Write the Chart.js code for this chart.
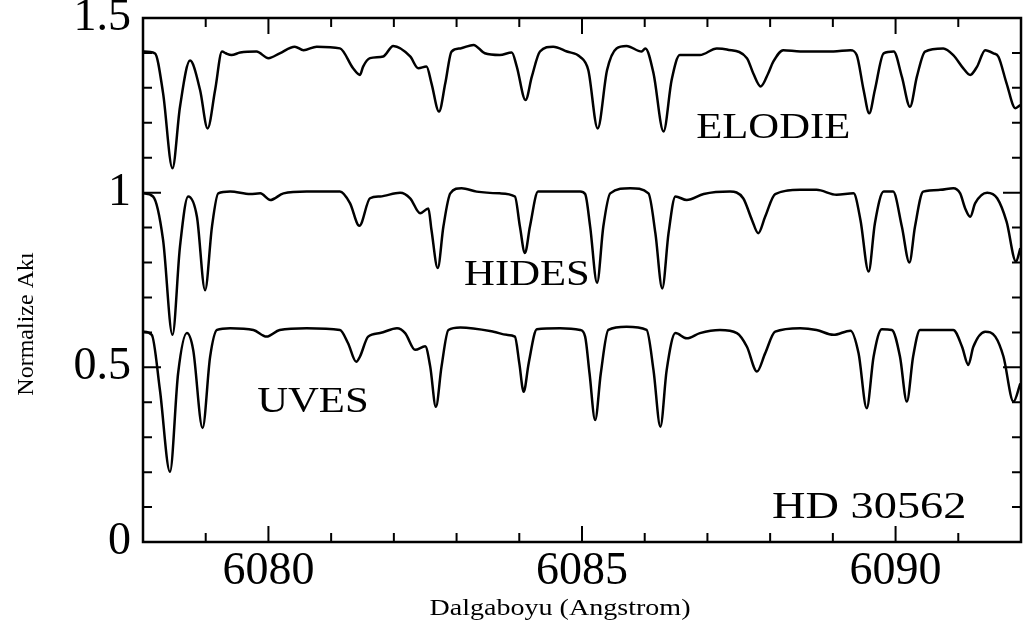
<!DOCTYPE html>
<html>
<head>
<meta charset="utf-8">
<script src="https://cdn.jsdelivr.net/npm/chart.js@4.4.0/dist/chart.umd.min.js"></script>
<style>
  html, body { margin: 0; padding: 0; background: #fff; }
</style>
</head>
<body>
<canvas id="spectra" width="1031" height="638"></canvas>
<script>
// Spectra of HD 30562 (wavelength in Angstrom, normalised flux)
const seriesNames = ['ELODIE', 'HIDES', 'UVES'];
const starName = 'HD 30562';
const xTicks = [6080, 6085, 6090];
const yTicks = [0, 0.5, 1, 1.5];

const elodieWave = [
  6078.00, 6078.19, 6078.32, 6078.47, 6078.59, 6078.75, 6078.91, 6079.03, 6079.15, 6079.26,
  6079.32, 6079.41, 6079.55, 6079.81, 6080.00, 6080.18, 6080.42, 6080.56, 6080.77, 6081.14,
  6081.35, 6081.46, 6081.51, 6081.62, 6081.83, 6081.99, 6082.26, 6082.39, 6082.52, 6082.60,
  6082.72, 6082.82, 6082.92, 6083.06, 6083.27, 6083.45, 6083.69, 6083.88, 6083.96, 6084.10,
  6084.20, 6084.33, 6084.54, 6084.76, 6084.97, 6085.10, 6085.25, 6085.40, 6085.55, 6085.71,
  6085.95, 6086.01, 6086.14, 6086.30, 6086.43, 6086.56, 6086.88, 6087.15, 6087.31, 6087.63,
  6087.73, 6087.85, 6087.97, 6088.05, 6088.21, 6088.48, 6089.01, 6089.28, 6089.38, 6089.49,
  6089.58, 6089.67, 6089.81, 6089.97, 6090.10, 6090.23, 6090.34, 6090.47, 6090.76, 6090.92,
  6091.08, 6091.19, 6091.30, 6091.43, 6091.56, 6091.64, 6091.77, 6091.91, 6091.99
];
const elodieFlux = [
  1.404, 1.399, 1.285, 1.070, 1.246, 1.378, 1.294, 1.184, 1.294, 1.404,
  1.399, 1.394, 1.401, 1.404, 1.385, 1.399, 1.418, 1.408, 1.418, 1.413,
  1.356, 1.337, 1.361, 1.385, 1.390, 1.420, 1.390, 1.356, 1.361, 1.313,
  1.232, 1.313, 1.404, 1.413, 1.423, 1.399, 1.394, 1.401, 1.361, 1.265,
  1.332, 1.404, 1.418, 1.404, 1.389, 1.351, 1.184, 1.351, 1.413, 1.420,
  1.404, 1.413, 1.342, 1.175, 1.323, 1.394, 1.394, 1.413, 1.410, 1.385,
  1.342, 1.304, 1.342, 1.375, 1.408, 1.404, 1.404, 1.408, 1.394, 1.294,
  1.227, 1.294, 1.399, 1.404, 1.332, 1.246, 1.332, 1.404, 1.413, 1.394,
  1.356, 1.337, 1.361, 1.408, 1.399, 1.389, 1.313, 1.242, 1.251
];

const hidesWave = [
  6078.00, 6078.16, 6078.32, 6078.47, 6078.59, 6078.72, 6078.86, 6078.99, 6079.10, 6079.20,
  6079.39, 6079.71, 6079.87, 6080.03, 6080.24, 6080.61, 6081.14, 6081.30, 6081.45, 6081.62,
  6081.78, 6082.10, 6082.26, 6082.42, 6082.55, 6082.60, 6082.70, 6082.79, 6082.90, 6083.08,
  6083.32, 6083.69, 6083.93, 6084.01, 6084.09, 6084.17, 6084.30, 6084.65, 6084.97, 6085.05,
  6085.13, 6085.24, 6085.34, 6085.45, 6085.77, 6086.06, 6086.17, 6086.28, 6086.38, 6086.49,
  6086.67, 6086.94, 6087.36, 6087.57, 6087.71, 6087.81, 6087.92, 6088.08, 6088.48, 6088.74,
  6089.06, 6089.33, 6089.44, 6089.57, 6089.67, 6089.81, 6089.96, 6090.10, 6090.22, 6090.31,
  6090.44, 6090.71, 6090.92, 6091.03, 6091.11, 6091.19, 6091.27, 6091.46, 6091.62, 6091.77,
  6091.92, 6091.99
];
const hidesFlux = [
  0.998, 0.989, 0.865, 0.593, 0.846, 0.989, 0.931, 0.721, 0.903, 0.998,
  1.003, 0.996, 0.998, 0.979, 0.998, 1.003, 1.003, 0.970, 0.905, 0.984,
  0.989, 1.000, 0.984, 0.941, 0.955, 0.893, 0.784, 0.903, 0.998, 1.013,
  1.003, 0.998, 0.989, 0.903, 0.827, 0.903, 1.003, 1.003, 1.003, 0.996,
  0.903, 0.742, 0.903, 0.998, 1.013, 0.998, 0.884, 0.726, 0.884, 0.989,
  0.979, 0.996, 1.003, 0.984, 0.922, 0.884, 0.931, 0.996, 1.008, 1.008,
  0.994, 0.998, 0.922, 0.774, 0.912, 1.003, 1.003, 0.903, 0.800, 0.903,
  1.003, 1.008, 1.013, 0.998, 0.955, 0.931, 0.970, 1.000, 0.984, 0.917,
  0.803, 0.841
];

const uvesWave = [
  6078.00, 6078.14, 6078.27, 6078.43, 6078.56, 6078.70, 6078.80, 6078.95, 6079.07, 6079.18,
  6079.39, 6079.76, 6079.97, 6080.18, 6080.61, 6081.14, 6081.27, 6081.40, 6081.46, 6081.59,
  6081.78, 6082.05, 6082.18, 6082.34, 6082.50, 6082.58, 6082.67, 6082.76, 6082.87, 6083.06,
  6083.59, 6083.80, 6083.93, 6084.00, 6084.07, 6084.15, 6084.28, 6084.65, 6084.97, 6085.05,
  6085.12, 6085.21, 6085.30, 6085.42, 6085.71, 6086.03, 6086.14, 6086.25, 6086.35, 6086.49,
  6086.67, 6086.88, 6087.20, 6087.47, 6087.63, 6087.79, 6087.92, 6088.08, 6088.48, 6088.74,
  6089.01, 6089.28, 6089.41, 6089.54, 6089.65, 6089.78, 6089.94, 6090.07, 6090.18, 6090.28,
  6090.39, 6090.92, 6091.06, 6091.16, 6091.24, 6091.43, 6091.59, 6091.72, 6091.88, 6091.99
];
const uvesFlux = [
  0.602, 0.593, 0.435, 0.201, 0.483, 0.598, 0.550, 0.326, 0.530, 0.607,
  0.612, 0.607, 0.588, 0.607, 0.612, 0.607, 0.569, 0.516, 0.531, 0.588,
  0.598, 0.612, 0.598, 0.550, 0.560, 0.502, 0.387, 0.502, 0.607, 0.614,
  0.602, 0.593, 0.588, 0.512, 0.430, 0.512, 0.609, 0.612, 0.607, 0.588,
  0.483, 0.349, 0.483, 0.607, 0.616, 0.607, 0.492, 0.330, 0.492, 0.598,
  0.583, 0.598, 0.607, 0.598, 0.559, 0.488, 0.540, 0.602, 0.612, 0.607,
  0.593, 0.605, 0.540, 0.383, 0.531, 0.609, 0.607, 0.531, 0.402, 0.531,
  0.607, 0.607, 0.559, 0.507, 0.559, 0.602, 0.588, 0.531, 0.402, 0.454
];

const SERIF = '"Liberation Serif", "Times New Roman", serif';

/**
 * Pair wavelength and flux arrays into chart points
 */
function toPoints(wave, flux) {
  return wave.map((w, i) => ({x: w, y: flux[i]}));
}

function spectrum(label, wave, flux) {
  return {
    label: label,
    data: toPoints(wave, flux),
    borderColor: '#000',
    borderWidth: 2.5,
    pointRadius: 0,
    fill: false,
    cubicInterpolationMode: 'monotone'
  };
}

// Box frame with inward ticks on all four sides, plus the in-plot labels and axis titles
const framePlugin = {
  id: 'frame',
  afterDraw(chart) {
    const {ctx, chartArea: a, scales: {x, y}} = chart;
    ctx.save();
    ctx.strokeStyle = '#000';
    ctx.lineWidth = 2.5;
    ctx.strokeRect(a.left, a.top, a.right - a.left, a.bottom - a.top);

    ctx.lineWidth = 2;
    ctx.beginPath();
    for (let w = 6079; w <= 6091; w++) {
      const px = x.getPixelForValue(w);
      const len = w % 5 === 0 ? 16 : 9;
      ctx.moveTo(px, a.bottom); ctx.lineTo(px, a.bottom - len);
      ctx.moveTo(px, a.top); ctx.lineTo(px, a.top + len);
    }
    for (let k = 1; k <= 14; k++) {
      const py = y.getPixelForValue(k / 10);
      const len = k % 5 === 0 ? 18 : 9;
      ctx.moveTo(a.left, py); ctx.lineTo(a.left + len, py);
      ctx.moveTo(a.right, py); ctx.lineTo(a.right - len, py);
    }
    ctx.stroke();

    // labels are set a little wider than the font, like the source figure
    const labels = [
      {text: seriesNames[0], at: [6086.82, 1.157], size: 35},
      {text: seriesNames[1], at: [6083.12, 0.736], size: 35},
      {text: seriesNames[2], at: [6079.82, 0.372], size: 35},
      {text: starName, at: [6088.03, 0.069], size: 38}
    ];
    ctx.fillStyle = '#000';
    ctx.textBaseline = 'alphabetic';
    labels.forEach(l => {
      ctx.save();
      ctx.translate(x.getPixelForValue(l.at[0]), y.getPixelForValue(l.at[1]));
      ctx.scale(1.22, 1);
      ctx.font = l.size + 'px ' + SERIF;
      ctx.textAlign = 'left';
      ctx.fillText(l.text, 0, 0);
      ctx.restore();
    });

    // axis titles
    ctx.save();
    ctx.translate(560, 615);
    ctx.scale(1.22, 1);
    ctx.font = '23px ' + SERIF;
    ctx.textAlign = 'center';
    ctx.fillText('Dalgaboyu (Angstrom)', 0, 0);
    ctx.restore();

    ctx.save();
    ctx.translate(33, 324);
    ctx.rotate(-Math.PI / 2);
    ctx.font = '24px ' + SERIF;
    ctx.textAlign = 'center';
    ctx.fillText('Normalize Akı', 0, 0);
    ctx.restore();

    ctx.restore();
  }
};

new Chart(document.getElementById('spectra'), {
  type: 'line',
  data: {
    datasets: [
      spectrum(seriesNames[0], elodieWave, elodieFlux),
      spectrum(seriesNames[1], hidesWave, hidesFlux),
      spectrum(seriesNames[2], uvesWave, uvesFlux)
    ]
  },
  options: {
    responsive: false,
    animation: false,
    devicePixelRatio: 1,
    layout: {padding: {top: 18, right: 10, left: 0, bottom: 0}},
    plugins: {
      legend: {display: false},
      tooltip: {enabled: false}
    },
    scales: {
      x: {
        type: 'linear',
        min: 6078,
        max: 6092,
        grid: {display: false, drawTicks: false},
        border: {display: false},
        afterBuildTicks: s => { s.ticks = xTicks.map(v => ({value: v})); },
        afterFit: s => { s.height = 96; s.paddingLeft = 0; s.paddingRight = 0; },
        ticks: {
          font: {family: SERIF, size: 46},
          color: '#000',
          padding: 2,
          maxRotation: 0,
          autoSkip: false,
          callback: v => String(v)
        }
      },
      y: {
        min: 0,
        max: 1.5,
        grid: {display: false, drawTicks: false},
        border: {display: false},
        afterBuildTicks: s => { s.ticks = yTicks.map(v => ({value: v})); },
        afterFit: s => { s.width = 143; s.paddingTop = 0; s.paddingBottom = 0; },
        ticks: {
          font: {family: SERIF, size: 46},
          color: '#000',
          padding: 12,
          callback: v => String(v)
        }
      }
    }
  },
  plugins: [framePlugin]
});
</script>
</body>
</html>
